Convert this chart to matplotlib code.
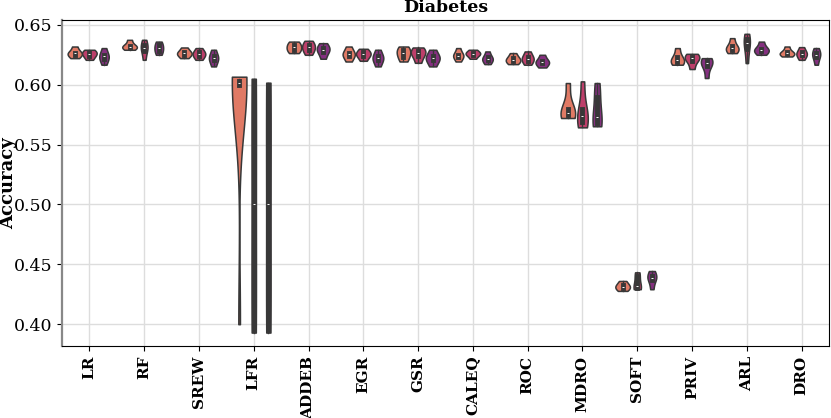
import matplotlib
matplotlib.use("Agg")
import matplotlib.pyplot as plt
import seaborn as sns
import pandas as pd

methods = ["LR", "RF", "SREW", "LFR", "ADDEB", "EGR", "GSR", "CALEQ",
           "ROC", "MDRO", "SOFT", "PRIV", "ARL", "DRO"]
hues = ["h1", "h2", "h3"]
colors = ["#e07a65", "#bd3f6a", "#84307f"]

# accuracy per run, one list per method, for each of the three hue groups
acc_h1 = [
    [0.6222, 0.6250, 0.6264, 0.6268, 0.6319],
    [0.6292, 0.6310, 0.6319, 0.6326, 0.6375],
    [0.6222, 0.6250, 0.6264, 0.6272, 0.6311],
    [0.4000, 0.5990, 0.6000, 0.6005, 0.6010, 0.6015, 0.6020, 0.6030, 0.6045, 0.6067],
    [0.6264, 0.6290, 0.6311, 0.6335, 0.6360],
    [0.6194, 0.6240, 0.6255, 0.6268, 0.6319],
    [0.6194, 0.6235, 0.6264, 0.6290, 0.6319],
    [0.6194, 0.6235, 0.6244, 0.6252, 0.6306],
    [0.6172, 0.6195, 0.6208, 0.6225, 0.6264],
    [0.5722, 0.5745, 0.5764, 0.5800, 0.6014],
    [0.4278, 0.4300, 0.4314, 0.4330, 0.4361],
    [0.6167, 0.6190, 0.6203, 0.6230, 0.6306],
    [0.6264, 0.6290, 0.6306, 0.6320, 0.6389],
    [0.6236, 0.6255, 0.6264, 0.6270, 0.6319],
]
acc_h2 = [
    [0.6208, 0.6240, 0.6258, 0.6272, 0.6292],
    [0.6208, 0.6285, 0.6306, 0.6330, 0.6375],
    [0.6208, 0.6240, 0.6258, 0.6270, 0.6306],
    [0.3930, 0.3950, 0.5000, 0.6030, 0.6050],
    [0.6250, 0.6290, 0.6311, 0.6335, 0.6367],
    [0.6200, 0.6240, 0.6255, 0.6270, 0.6300],
    [0.6183, 0.6240, 0.6264, 0.6285, 0.6311],
    [0.6217, 0.6250, 0.6258, 0.6268, 0.6292],
    [0.6167, 0.6200, 0.6217, 0.6235, 0.6278],
    [0.5644, 0.5690, 0.5736, 0.5800, 0.6028],
    [0.4292, 0.4305, 0.4319, 0.4400, 0.4433],
    [0.6131, 0.6200, 0.6222, 0.6235, 0.6258],
    [0.6181, 0.6300, 0.6347, 0.6380, 0.6425],
    [0.6208, 0.6245, 0.6258, 0.6272, 0.6314],
]
acc_h3 = [
    [0.6167, 0.6215, 0.6236, 0.6250, 0.6306],
    [0.6250, 0.6280, 0.6306, 0.6330, 0.6360],
    [0.6153, 0.6205, 0.6222, 0.6240, 0.6292],
    [0.3930, 0.3950, 0.5000, 0.6000, 0.6017],
    [0.6217, 0.6275, 0.6292, 0.6310, 0.6347],
    [0.6153, 0.6205, 0.6222, 0.6240, 0.6292],
    [0.6153, 0.6205, 0.6222, 0.6240, 0.6292],
    [0.6172, 0.6205, 0.6217, 0.6228, 0.6278],
    [0.6144, 0.6178, 0.6189, 0.6200, 0.6250],
    [0.5653, 0.5680, 0.5728, 0.5900, 0.6014],
    [0.4292, 0.4370, 0.4389, 0.4405, 0.4444],
    [0.6056, 0.6160, 0.6181, 0.6200, 0.6222],
    [0.6250, 0.6280, 0.6292, 0.6300, 0.6360],
    [0.6167, 0.6230, 0.6250, 0.6268, 0.6306],
]

rows = []
for hue, acc in zip(hues, [acc_h1, acc_h2, acc_h3]):
    for m, vals in zip(methods, acc):
        for v in vals:
            rows.append((m, hue, v))
df = pd.DataFrame(rows, columns=["method", "hue", "acc"])

plt.rcParams["font.family"] = "DejaVu Serif"

fig = plt.figure(figsize=(8.31, 4.18), dpi=100)
ax = fig.add_axes([0.0746, 0.172, 0.9230, 0.780])

# one call per method, common_norm inside it -> widths scaled within each method
for m in methods:
    sns.violinplot(data=df[df["method"] == m], x="method", y="acc", hue="hue",
                   order=methods, hue_order=hues, palette=colors, saturation=1,
                   cut=0, common_norm=True, linecolor="#383838", linewidth=1.1,
                   inner_kws=dict(box_width=3.5, whis_width=1, markersize=2),
                   legend=False, ax=ax)

ax.set_axisbelow(True)
ax.grid(True, axis="both", color="#dddddd", linewidth=1)

ax.set_xlim(-0.5, len(methods) - 0.5)
ax.set_ylim(0.3817, 0.654)
ax.set_title("Diabetes", fontsize=12.5, fontweight="bold")
ax.set_xlabel("")
ax.set_ylabel("Accuracy", fontsize=13, fontweight="bold")
ax.yaxis.set_label_coords(-0.0587, 0.5)
ax.tick_params(axis="y", labelsize=12.5)
ax.tick_params(axis="x", labelsize=11, rotation=90)
for lab in ax.get_xticklabels():
    lab.set_fontweight("bold")
ax.spines["left"].set_color("#888888")
ax.spines["left"].set_linewidth(1.6)

fig.savefig("out.png", dpi=100)
